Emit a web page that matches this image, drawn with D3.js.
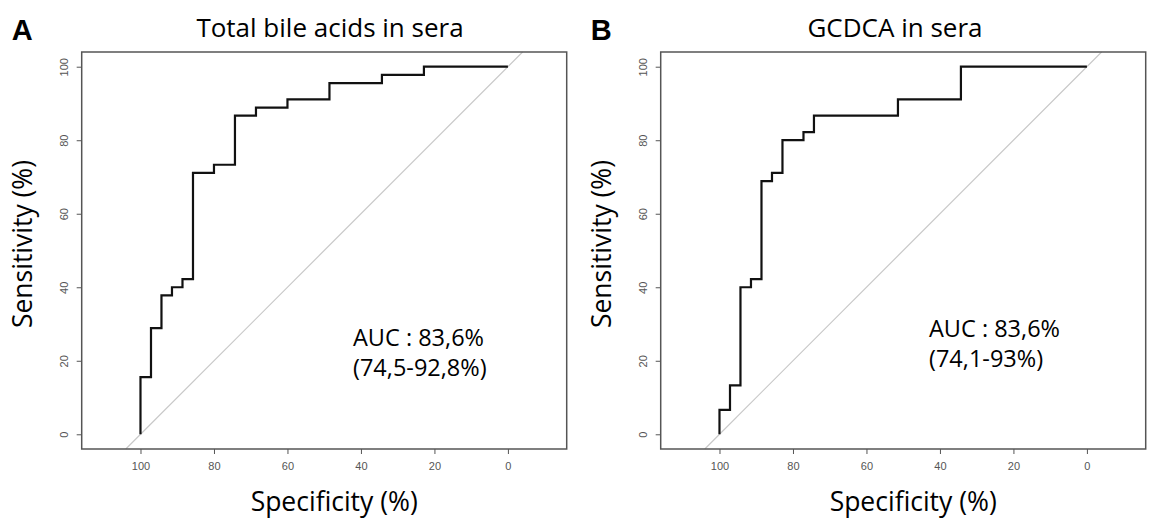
<!DOCTYPE html>
<html>
<head>
<meta charset="utf-8">
<script src="https://cdn.jsdelivr.net/npm/d3@7"></script>
<style>
    body { margin: 0; background: #fff; }
    .tick text { font-family: "Liberation Sans", Arial, sans-serif; font-size: 11px; fill: #555; }
    .tick line { stroke: #555; }
    .labels { font-family: "Open Sans", sans-serif; fill: #000; }
</style>
</head>
<body>
<div id="vis"></div>
<script>
// ROC points (specificity %, sensitivity %)
const specA = [100, 100, 97.14, 97.14, 94.29, 94.29, 91.43, 91.43, 88.57, 88.57, 85.71, 85.71, 80, 80, 74.29, 74.29, 68.57, 68.57, 60, 60, 48.57, 48.57, 34.29, 34.29, 22.86, 22.86, 0];
const sensA = [0, 15.56, 15.56, 28.89, 28.89, 37.78, 37.78, 40, 40, 42.22, 42.22, 71.11, 71.11, 73.33, 73.33, 86.67, 86.67, 88.89, 88.89, 91.11, 91.11, 95.56, 95.56, 97.78, 97.78, 100, 100];

const specB = [100, 100, 97.14, 97.14, 94.29, 94.29, 91.43, 91.43, 88.57, 88.57, 85.71, 85.71, 82.86, 82.86, 77.14, 77.14, 74.29, 74.29, 51.43, 51.43, 34.29, 34.29, 0];
const sensB = [0, 6.67, 6.67, 13.33, 13.33, 40, 40, 42.22, 42.22, 68.89, 68.89, 71.11, 71.11, 80, 80, 82.22, 82.22, 86.67, 86.67, 91.11, 91.11, 100, 100];

const tickValues = [0, 20, 40, 60, 80, 100];
const panelLetters = ["A", "B"];
const titles = ["Total bile acids in sera", "GCDCA in sera"];
const aucLines = [["AUC : 83,6%", "(74,5-92,8%)"], ["AUC : 83,6%", "(74,1-93%)"]];

const W = 1151, H = 519;

const svg = d3.select('#vis')
    .append('svg')
    .attr('width', W)
    .attr('height', H);

function drawPanel(i, spec, sens, left) {
    const boxW = 485;
    const top = 52, bottom = 449;

    // R pads the axes, x is stretched for the square aspect
    const xScale = d3.scaleLinear().domain([116, -16]).range([left, left + boxW]);
    const yScale = d3.scaleLinear().domain([-4, 104]).range([bottom, top]);

    const g = svg.append('g');

    // diagonal reference line
    g.append('line')
        .attr('x1', xScale(104)).attr('y1', yScale(-4))
        .attr('x2', xScale(-4)).attr('y2', yScale(104))
        .attr('stroke', '#c8c8c8')
        .attr('stroke-width', 1.2);

    // axes
    g.append('g')
        .attr('transform', `translate(0, ${bottom})`)
        .call(d3.axisBottom(xScale).tickValues(tickValues).tickSize(5).tickPadding(8))
        .call(a => a.select('.domain').remove());

    const yAxis = g.append('g')
        .attr('transform', `translate(${left}, 0)`)
        .call(d3.axisLeft(yScale).tickValues(tickValues).tickSize(5).tickPadding(4))
        .call(a => a.select('.domain').remove());
    yAxis.selectAll('.tick text')
        .attr('transform', 'rotate(-90)')
        .attr('x', 0)
        .attr('y', -14)
        .attr('dy', 0)
        .attr('text-anchor', 'middle');

    // plot box
    g.append('rect')
        .attr('x', left).attr('y', top)
        .attr('width', boxW).attr('height', bottom - top)
        .attr('fill', 'none')
        .attr('stroke', '#555')
        .attr('stroke-width', 1.5);

    // ROC curve
    const pts = spec.map((s, k) => [s, sens[k]]);
    const line = d3.line()
        .x(d => xScale(d[0]))
        .y(d => yScale(d[1]));
    g.append('path')
        .datum(pts)
        .attr('d', line)
        .attr('fill', 'none')
        .attr('stroke', '#111')
        .attr('stroke-width', 2.2);

    // texts
    g.append('text')
        .attr('x', i == 0 ? 330 : 895)
        .attr('y', 37)
        .attr('text-anchor', 'middle')
        .attr('class', 'labels')
        .style('font-size', '26px')
        .text(titles[i]);

    g.append('text')
        .attr('x', left - 70)
        .attr('y', 40)
        .attr('class', 'labels')
        .style('font-family', '"Liberation Sans", Arial, sans-serif')
        .style('font-weight', 'bold')
        .style('font-size', '29px')
        .text(panelLetters[i]);

    g.append('text')
        .attr('x', left + boxW / 2 + 10)
        .attr('y', 511)
        .attr('text-anchor', 'middle')
        .attr('class', 'labels')
        .style('font-size', '26.5px')
        .text('Specificity (%)');

    g.append('text')
        .attr('transform', `translate(${left - 50}, 244) rotate(-90)`)
        .attr('text-anchor', 'middle')
        .attr('class', 'labels')
        .style('font-size', '26.5px')
        .text('Sensitivity (%)');

    const aucX = i == 0 ? 353 : 929;
    const aucY = i == 0 ? 346 : 337;
    g.selectAll('.auc')
        .data(aucLines[i])
        .enter()
        .append('text')
        .attr('x', aucX)
        .attr('y', (d, k) => aucY + k * 30)
        .attr('class', 'labels')
        .style('font-size', '23.5px')
        .text(d => d);
}

drawPanel(0, specA, sensA, 81.7);
drawPanel(1, specB, sensB, 660.7);
</script>
</body>
</html>
